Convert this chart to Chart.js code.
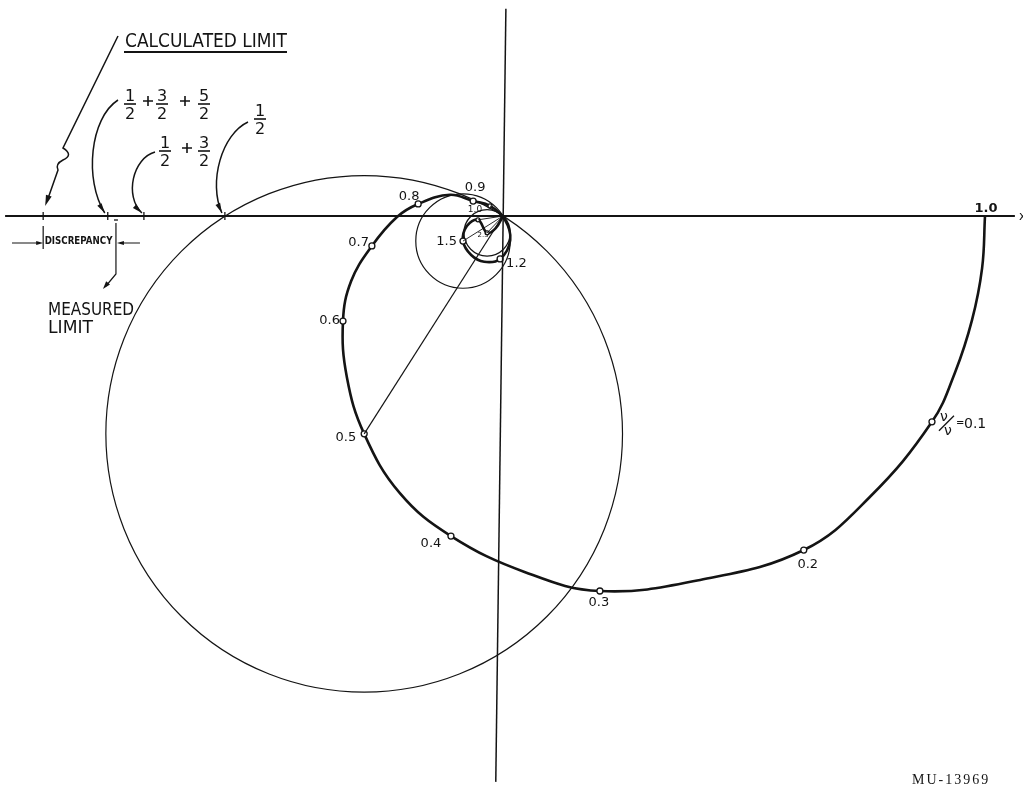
<!DOCTYPE html>
<html>
<head>
<meta charset="utf-8">
<script src="https://cdn.jsdelivr.net/npm/chart.js"></script>
<style>
  html, body { margin: 0; padding: 0; background: #fff; }
  #myChart { display: block; }
</style>
</head>
<body>
<canvas id="myChart" width="1023" height="788"></canvas>
<script>
// impedance spiral, real part / imaginary part (1.0 = start on the real axis)
var spiralX = [1.000, 0.994, 0.973, 0.938, 0.890, 0.761, 0.624, 0.409, 0.201, 0.046,
  -0.108, -0.214, -0.288, -0.324, -0.332, -0.315, -0.272, -0.220, -0.176, -0.110, -0.062,
  -0.027, 0.004, 0.015, -0.006, -0.039, -0.066, -0.083, -0.075, -0.052, -0.033, -0.015, 0.000];
var spiralY = [0.000, -0.108, -0.216, -0.324, -0.427, -0.583, -0.693, -0.755, -0.778, -0.739,
  -0.664, -0.575, -0.452, -0.334, -0.218, -0.135, -0.062, -0.002, 0.025, 0.044, 0.031,
  0.021, -0.008, -0.050, -0.089, -0.095, -0.081, -0.052, -0.021, -0.008, -0.035, -0.025, 0.000];
// nu/nu0 of the marked points
var spiralTags = ["", "", "", "", "0.1", "", "0.2", "", "0.3", "",
  "0.4", "", "0.5", "", "0.6", "", "0.7", "", "0.8", "", "0.9",
  "1.0", "", "", "1.2", "", "", "1.5", "", "2.0", "2.5", "", ""];

// circles are centred on these points and pass through the origin
var circleTags = ["0.5", "1.5", "2.5"];
// inner points joined to the origin
var fanTags = ["1.0", "1.5", "2.0", "2.5"];

// real axis and the (slightly tilted) imaginary axis
var realAxisX = [-1.033, 1.062];
var imagAxisX = [0.006, -0.015];
var imagAxisY = [0.430, -1.174];
var axisValue = 1.0;

// marks on the real axis
var limitX = [-0.954, -0.820, -0.745, -0.577];
var measuredX = -0.803;

var ink = "#141414";
var font = "DejaVu Sans";

// label offsets (px) for the marked points
var tagPos = {
  "0.2": [4, 15, "center", 13],
  "0.3": [-1, 12, "center", 13],
  "0.4": [-20, 8, "center", 13],
  "0.5": [-8, 4, "right", 13],
  "0.6": [-3, 0, "right", 13],
  "0.7": [-3, -3, "right", 13],
  "0.8": [-9, -7, "center", 13],
  "0.9": [2, -13, "center", 13],
  "1.0": [-15, 4, "center", 9],
  "1.2": [6, 5, "left", 13],
  "1.5": [-6, 1, "right", 13],
  "2.5": [-4, 2, "center", 7]
};

function pts(xs, ys) {
  return xs.map(function (x, i) { return { x: x, y: ys[i] }; });
}

function at(tag) {
  var i = spiralTags.indexOf(tag);
  return { x: spiralX[i], y: spiralY[i] };
}

function head(ctx, x, y, ang, len, w) {
  ctx.save();
  ctx.translate(x, y);
  ctx.rotate(ang);
  ctx.beginPath();
  ctx.moveTo(0, 0);
  ctx.lineTo(-len, -w / 2);
  ctx.lineTo(-len, w / 2);
  ctx.closePath();
  ctx.fill();
  ctx.restore();
}

// curved leader ending in an arrowhead
function leader(ctx, p0, c1, c2, p1) {
  ctx.beginPath();
  ctx.moveTo(p0[0], p0[1]);
  ctx.bezierCurveTo(c1[0], c1[1], c2[0], c2[1], p1[0], p1[1]);
  ctx.stroke();
  head(ctx, p1[0], p1[1], Math.atan2(p1[1] - c2[1], p1[0] - c2[0]), 10, 5);
}

function frac(ctx, num, den, x, y) {
  ctx.font = "16px " + font;
  ctx.textAlign = "center";
  ctx.textBaseline = "alphabetic";
  ctx.fillText(num, x, y - 3);
  ctx.fillText(den, x, y + 15);
  ctx.beginPath();
  ctx.moveTo(x - 6, y);
  ctx.lineTo(x + 6, y);
  ctx.stroke();
}

function plus(ctx, x, y) {
  ctx.beginPath();
  ctx.moveTo(x - 5, y); ctx.lineTo(x + 5, y);
  ctx.moveTo(x, y - 5); ctx.lineTo(x, y + 5);
  ctx.stroke();
}

var sketch = {
  id: "sketch",
  beforeDraw: function (chart) {
    var ctx = chart.ctx;
    ctx.save();
    ctx.fillStyle = "#fff";
    ctx.fillRect(0, 0, chart.width, chart.height);
    ctx.restore();
  },
  beforeDatasetsDraw: function (chart) {
    var ctx = chart.ctx, sx = chart.scales.x, sy = chart.scales.y;
    ctx.save();
    ctx.strokeStyle = ink;
    ctx.lineWidth = 1.2;
    circleTags.forEach(function (t) {
      var c = at(t);
      var r = Math.sqrt(c.x * c.x + c.y * c.y);
      var px = sx.getPixelForValue(c.x), py = sy.getPixelForValue(c.y);
      ctx.beginPath();
      ctx.arc(px, py, sx.getPixelForValue(c.x + r) - px, 0, 2 * Math.PI);
      ctx.stroke();
    });
    ctx.restore();
  },
  afterDatasetsDraw: function (chart) {
    var ctx = chart.ctx, sx = chart.scales.x, sy = chart.scales.y;
    var ay = sy.getPixelForValue(0);
    ctx.save();
    ctx.fillStyle = ink;
    ctx.strokeStyle = ink;

    // point labels
    spiralTags.forEach(function (t, i) {
      var p = tagPos[t];
      if (!p) return;
      ctx.font = p[3] + "px " + font;
      ctx.textAlign = p[2];
      ctx.textBaseline = "middle";
      ctx.fillText(t, sx.getPixelForValue(spiralX[i]) + p[0], sy.getPixelForValue(spiralY[i]) + p[1]);
    });

    // nu/nu0 = 0.1
    var q = at("0.1");
    var qx = sx.getPixelForValue(q.x), qy = sy.getPixelForValue(q.y);
    ctx.font = "14px " + font;
    ctx.textAlign = "center";
    ctx.textBaseline = "middle";
    ctx.fillText("ν", qx + 12, qy - 4);
    ctx.fillText("ν", qx + 16, qy + 10);
    ctx.lineWidth = 1.3;
    ctx.beginPath();
    ctx.moveTo(qx + 7, qy + 9);
    ctx.lineTo(qx + 22, qy - 6);
    ctx.stroke();
    ctx.textAlign = "left";
    ctx.font = "10px " + font;
    ctx.fillText("=", qx + 24, qy + 2);
    ctx.font = "14px " + font;
    ctx.fillText("0.1", qx + 32, qy + 3);

    // axis value and axis name
    ctx.textAlign = "center";
    ctx.textBaseline = "alphabetic";
    ctx.font = "bold 13px " + font;
    ctx.fillText("1.0", sx.getPixelForValue(axisValue) + 1, ay - 4);
    ctx.font = "12px " + font;
    ctx.textAlign = "left";
    ctx.fillText("x", sx.getPixelForValue(realAxisX[1]) + 4, ay + 4);

    // ticks on the real axis
    ctx.lineWidth = 1.3;
    limitX.forEach(function (v) {
      var tx = sx.getPixelForValue(v);
      ctx.beginPath();
      ctx.moveTo(tx, ay - 4);
      ctx.lineTo(tx, ay + 4);
      ctx.stroke();
    });
    var mx = sx.getPixelForValue(measuredX);
    ctx.beginPath();
    ctx.moveTo(mx - 2, ay + 4);
    ctx.lineTo(mx + 2, ay + 4);
    ctx.stroke();

    var t0 = sx.getPixelForValue(limitX[0]);
    var t1 = sx.getPixelForValue(limitX[1]);
    var t2 = sx.getPixelForValue(limitX[2]);
    var t3 = sx.getPixelForValue(limitX[3]);

    // CALCULATED LIMIT
    ctx.font = "20px " + font;
    ctx.textAlign = "left";
    ctx.textBaseline = "alphabetic";
    ctx.fillText("CALCULATED LIMIT", 125, 47, 162);
    ctx.lineWidth = 2;
    ctx.beginPath();
    ctx.moveTo(124, 52);
    ctx.lineTo(287, 52);
    ctx.stroke();

    ctx.lineWidth = 1.5;
    ctx.beginPath();
    ctx.moveTo(118, 36);
    ctx.lineTo(63, 148);
    ctx.quadraticCurveTo(74, 155, 63, 160);
    ctx.quadraticCurveTo(55, 164, 58, 170);
    ctx.lineTo(t0 + 5, ay - 18);
    ctx.stroke();
    head(ctx, t0 + 2, ay - 10, Math.atan2(ay - 18 - 170, t0 + 5 - 58), 11, 6);

    // partial sums of the fractions
    ctx.lineWidth = 1.6;
    frac(ctx, "1", "2", 130, 104);
    plus(ctx, 148, 101);
    frac(ctx, "3", "2", 162, 104);
    plus(ctx, 185, 101);
    frac(ctx, "5", "2", 204, 104);

    frac(ctx, "1", "2", 165, 151);
    plus(ctx, 187, 148);
    frac(ctx, "3", "2", 204, 151);

    frac(ctx, "1", "2", 260, 119);

    ctx.lineWidth = 1.5;
    leader(ctx, [118, 100], [90, 118], [84, 180], [t1 - 3, ay - 3]);
    leader(ctx, [155, 152], [133, 158], [124, 196], [t2 - 2, ay - 3]);
    leader(ctx, [248, 122], [222, 134], [208, 182], [t3 - 3, ay - 3]);

    // discrepancy between calculated and measured limit
    ctx.lineWidth = 1.2;
    ctx.beginPath();
    ctx.moveTo(t0, ay + 10); ctx.lineTo(t0, ay + 33);
    ctx.moveTo(mx, ay + 7); ctx.lineTo(mx, ay + 58);
    ctx.lineTo(mx - 10, ay + 70);
    ctx.moveTo(12, ay + 27); ctx.lineTo(t0 - 4, ay + 27);
    ctx.moveTo(mx + 24, ay + 27); ctx.lineTo(mx + 4, ay + 27);
    ctx.stroke();
    head(ctx, t0, ay + 27, 0, 7, 4);
    head(ctx, mx + 1, ay + 27, Math.PI, 7, 4);
    head(ctx, mx - 13, ay + 73, Math.atan2(12, -10), 8, 5);
    ctx.font = "bold 10px " + font;
    ctx.textAlign = "center";
    ctx.textBaseline = "middle";
    ctx.fillText("DISCREPANCY", (t0 + mx) / 2 - 1, ay + 25, mx - t0 - 5);

    ctx.font = "18px " + font;
    ctx.textAlign = "left";
    ctx.textBaseline = "alphabetic";
    ctx.fillText("MEASURED", 48, 315, 86);
    ctx.fillText("LIMIT", 48, 333, 45);

    // drawing number
    ctx.font = "14px 'Liberation Serif'";
    if ("letterSpacing" in ctx) ctx.letterSpacing = "2px";
    ctx.fillText("MU-13969", 912, 784, 86);
    ctx.restore();
  }
};

var origin = { x: 0, y: 0 };
var fanSets = fanTags.map(function (t) {
  return {
    data: [origin, at(t)],
    showLine: true, borderColor: ink, borderWidth: 0.9, pointRadius: 0
  };
});

new Chart("myChart", {
  type: "scatter",
  data: {
    datasets: [{
      data: pts(realAxisX, [0, 0]),
      showLine: true, borderColor: ink, borderWidth: 2, pointRadius: 0
    }, {
      data: pts(imagAxisX, imagAxisY),
      showLine: true, borderColor: ink, borderWidth: 1.5, pointRadius: 0
    }, {
      // radius of the large circle
      data: [at("0.5"), origin],
      showLine: true, borderColor: ink, borderWidth: 1.2, pointRadius: 0
    }].concat(fanSets).concat([{
      data: pts(spiralX, spiralY),
      showLine: true,
      borderColor: ink,
      borderWidth: 2.6,
      tension: 0.4,
      pointRadius: function (c) {
        var t = spiralTags[c.dataIndex];
        if (!t) return 0;
        return parseFloat(t) > 0.95 && t !== "1.2" && t !== "1.5" ? 2 : 3;
      },
      pointBackgroundColor: "#fff",
      pointBorderColor: ink,
      pointBorderWidth: 1.3
    }])
  },
  options: {
    responsive: false,
    devicePixelRatio: 1,
    animation: false,
    events: [],
    layout: { padding: 0 },
    scales: {
      x: { type: "linear", min: -503 / 482, max: 520 / 482, display: false },
      y: { type: "linear", min: -572 / 482, max: 216 / 482, display: false }
    },
    plugins: {
      legend: { display: false },
      tooltip: { enabled: false }
    }
  },
  plugins: [sketch]
});
</script>
</body>
</html>
